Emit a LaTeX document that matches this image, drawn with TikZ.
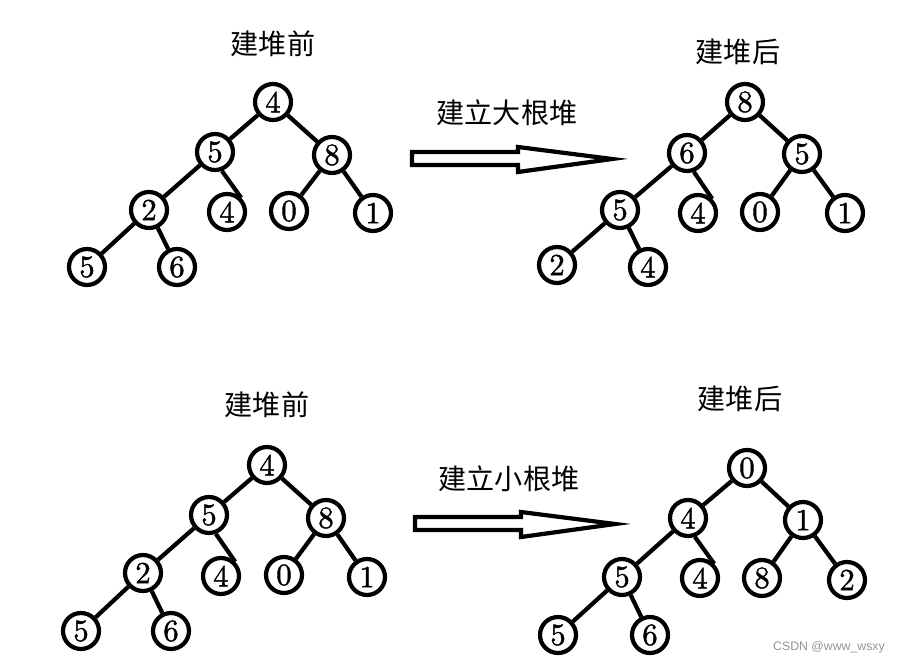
\documentclass[tikz,border=0pt]{standalone}
\usepackage{fontspec}
\usepackage{tikz}
\newfontfamily\cjk{Noto Sans CJK SC}
\newfontfamily\wmfont{Liberation Sans}
\newfontfamily\numfont{lmroman10-regular.otf}[FakeBold=1.3]

\begin{document}
\begin{tikzpicture}[x=0.02cm,y=-0.02cm,
        hnode/.style={circle,draw,line width=2.4pt,fill=white,minimum size=0.72cm,inner sep=0pt,font=\numfont\fontsize{17.5}{17.5}\selectfont},
        edge/.style={line width=2.4pt},
        title/.style={font=\cjk\fontsize{16}{16}\selectfont},
        hollow/.style={line width=2.4pt,line join=miter}]
            \useasboundingbox (0,0) rectangle (903,666);
            % titles
            \node[title] (tA) at (273,44) {建堆前};
            \node[title] (tB) at (738,52) {建堆后};
            \node[title] (tC) at (267,405) {建堆前};
            \node[title] (tD) at (740,399) {建堆后};
            \node[title] (opA) at (507,113) {建立大根堆};
            \node[title] (opB) at (509,479) {建立小根堆};
            % trees
            \foreach \n/\x/\y/\l in {a1/273/102/4,a2/215/152/5,a3/332/155/8,a4/149/210/2,a5/227/212/4,
                    a6/289/211/0,a7/373/213/1,a8/87/267/5,a9/177/267/6}{
                \node[hnode] (\n) at (\x,\y) {\l};
            }
            \foreach \n/\x/\y/\l in {b1/745/102/8,b2/687/153/6,b3/802/154/5,b4/620/210/5,b5/698/213/4,
                    b6/760/212/0,b7/845/213/1,b8/557/265/2,b9/648/267/4}{
                \node[hnode] (\n) at (\x,\y) {\l};
            }
            \foreach \n/\x/\y/\l in {c1/267/465/4,c2/209/515/5,c3/326/518/8,c4/143/573/2,c5/221/576/4,
                    c6/284/575/0,c7/367/577/1,c8/81/631/5,c9/171/631/6}{
                \node[hnode] (\n) at (\x,\y) {\l};
            }
            \foreach \n/\x/\y/\l in {d1/747/468/0,d2/688/518/4,d3/803/520/1,d4/622/577/5,d5/700/578/4,
                    d6/762/578/8,d7/847/580/2,d8/558/635/5,d9/650/635/6}{
                \node[hnode] (\n) at (\x,\y) {\l};
            }
            \foreach \t in {a,b,c,d}{
                \draw[edge] (\t1)--(\t2) (\t1)--(\t3) (\t2)--(\t4) (\t2.-70)--(\t5.45)
                    (\t3)--(\t6) (\t3)--(\t7) (\t4)--(\t8) (\t4)--(\t9);
            }
            % arrows
            \draw[hollow] (412,152)--(518,152)--(518,147)--(612,159)--(518,172)--(518,165)--(412,165)--cycle;
            \draw[hollow] (415,517)--(521,517)--(521,512)--(615,524)--(521,537)--(521,530)--(415,530)--cycle;
            \node[font=\wmfont\fontsize{7}{7}\selectfont,text=black!42] (wm) at (829,647) {CSDN @www\_wsxy};
        \end{tikzpicture}
\end{document}
